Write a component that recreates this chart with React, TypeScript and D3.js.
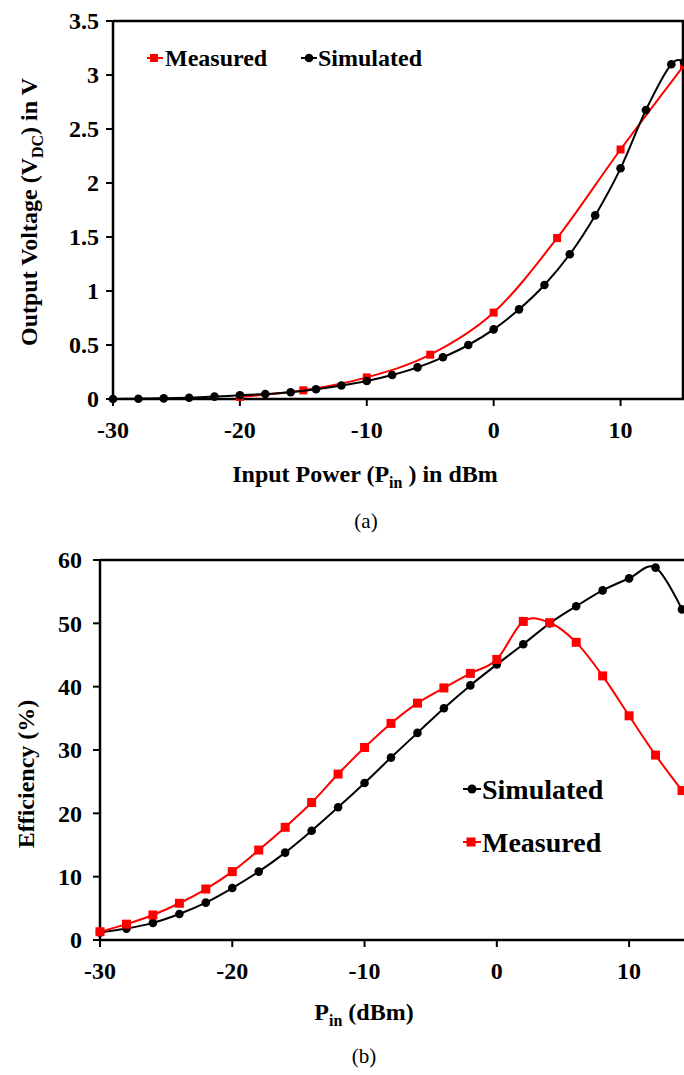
import React from "react";
import * as d3 from "d3";

// ---- Data: chart (a) output voltage ----
const measuredA_x = [-20, -15, -10, -5, 0, 5, 10, 15];
const measuredA_y = [0.02, 0.08, 0.2, 0.41, 0.8, 1.49, 2.31, 3.09];
const simulatedA_x = [-30, -28, -26, -24, -22, -20, -18, -16, -14, -12, -10, -8, -6, -4, -2, 0, 2, 4, 6, 8, 10, 12, 14, 15];
const simulatedA_y = [0, 0.003, 0.006, 0.012, 0.022, 0.035, 0.046, 0.062, 0.09, 0.125, 0.167, 0.222, 0.293, 0.386, 0.5, 0.645, 0.83, 1.056, 1.34, 1.7, 2.136, 2.676, 3.1, 3.12];
const xTicksA = [-30, -20, -10, 0, 10];
const yTicksA = [0, 0.5, 1, 1.5, 2, 2.5, 3, 3.5];

// ---- Data: chart (b) efficiency ----
const pinB = [-30, -28, -26, -24, -22, -20, -18, -16, -14, -12, -10, -8, -6, -4, -2, 0, 2, 4, 6, 8, 10, 12, 14];
const simulatedB = [1.2, 1.8, 2.7, 4.1, 5.9, 8.2, 10.8, 13.8, 17.25, 20.95, 24.8, 28.8, 32.7, 36.6, 40.2, 43.5, 46.7, 50.0, 52.7, 55.2, 57.1, 58.8, 52.2];
const measuredB = [1.3, 2.5, 3.95, 5.8, 8.05, 10.8, 14.2, 17.8, 21.7, 26.2, 30.4, 34.2, 37.4, 39.8, 42.1, 44.3, 50.3, 50.1, 47.0, 41.7, 35.4, 29.2, 23.6];
const xTicksB = [-30, -20, -10, 0, 10];
const yTicksB = [0, 10, 20, 30, 40, 50, 60];

const RED = "#ff0000";
const FONT = "'Liberation Serif', 'Times New Roman', serif";

const xA = d3.scaleLinear().domain([-30, 15]).range([113, 684]);
const yA = d3.scaleLinear().domain([0, 3.5]).range([399, 21]);
const xB = d3.scaleLinear().domain([-30, 14]).range([100, 682]);
const yB = d3.scaleLinear().domain([0, 60]).range([940, 560]);

function pathOf(xs: number[], ys: number[], sx: any, sy: any) {
  const pts: [number, number][] = xs.map((x, i) => [sx(x), sy(ys[i])]);
  return d3.line().curve(d3.curveCardinal.tension(0))(pts) || "";
}

function Squares({ xs, ys, sx, sy, s }: any) {
  return (
    <g fill={RED}>
      {xs.map((x: number, i: number) => (
        <rect key={i} x={sx(x) - s / 2} y={sy(ys[i]) - s / 2} width={s} height={s} />
      ))}
    </g>
  );
}
function Dots({ xs, ys, sx, sy, r }: any) {
  return (
    <g fill="#000">
      {xs.map((x: number, i: number) => (
        <circle key={i} cx={sx(x)} cy={sy(ys[i])} r={r} />
      ))}
    </g>
  );
}

export default function App() {
  const tickLen = 7;
  const TF = 24;
  return (
    <svg width={684} height={1075} style={{ position: "absolute", left: 0, top: 0, background: "#fff" }} fontFamily={FONT}>
      <defs>
        <clipPath id="clipA"><rect x={100} y={0} width={584} height={420} /></clipPath>
        <clipPath id="clipB"><rect x={90} y={540} width={594} height={420} /></clipPath>
      </defs>
      {/* ===== Chart A ===== */}
      <g>
        <line x1={xA(-30)} x2={684} y1={yA(3.5)} y2={yA(3.5)} stroke="#000" strokeWidth={2.5} />
        <line x1={683} x2={683} y1={yA(3.5)} y2={yA(0)} stroke="#000" strokeWidth={2.5} />
        <line x1={xA(-30)} x2={684} y1={yA(0)} y2={yA(0)} stroke="#000" strokeWidth={2.5} />
        <line x1={xA(-30)} x2={xA(-30)} y1={yA(3.5)} y2={yA(0)} stroke="#000" strokeWidth={2.5} />
        {yTicksA.map((t) => (
          <g key={t}>
            <line x1={xA(-30) - tickLen} x2={xA(-30)} y1={yA(t)} y2={yA(t)} stroke="#000" strokeWidth={2} />
            <text x={99} y={yA(t)} dy="0.35em" textAnchor="end" fontWeight="bold" fontSize={TF}>{t}</text>
          </g>
        ))}
        {xTicksA.map((t) => (
          <g key={t}>
            <line x1={xA(t)} x2={xA(t)} y1={yA(0)} y2={yA(0) + tickLen} stroke="#000" strokeWidth={2} />
            <text x={xA(t)} y={438} textAnchor="middle" fontWeight="bold" fontSize={TF}>{t}</text>
          </g>
        ))}
        <g clipPath="url(#clipA)">
          <path d={pathOf(measuredA_x, measuredA_y, xA, yA)} fill="none" stroke={RED} strokeWidth={2} />
          <Squares xs={measuredA_x} ys={measuredA_y} sx={xA} sy={yA} s={8} />
          <path d={pathOf(simulatedA_x, simulatedA_y, xA, yA)} fill="none" stroke="#000" strokeWidth={2} />
          <Dots xs={simulatedA_x} ys={simulatedA_y} sx={xA} sy={yA} r={4.3} />
        </g>
        {/* legend */}
        <line x1={147} x2={163} y1={58} y2={58} stroke={RED} strokeWidth={2} />
        <rect x={150} y={54} width={8} height={8} fill={RED} />
        <text x={165} y={66} fontWeight="bold" fontSize={24}>Measured</text>
        <line x1={301} x2={317} y1={58} y2={58} stroke="#000" strokeWidth={2} />
        <circle cx={309} cy={58} r={4.3} fill="#000" />
        <text x={318} y={66} fontWeight="bold" fontSize={24}>Simulated</text>
        {/* axis titles */}
        <text transform="translate(37,212) rotate(-90)" textAnchor="middle" fontWeight="bold" fontSize={TF}>
          Output Voltage (V<tspan fontSize={16} dy={6}>DC</tspan><tspan dy={-6}>) in V</tspan>
        </text>
        <text x={365} y={482} textAnchor="middle" fontWeight="bold" fontSize={TF}>
          Input Power (P<tspan fontSize={16} dy={6}>in</tspan><tspan dy={-6}> ) in dBm</tspan>
        </text>
        <text x={366} y={528} textAnchor="middle" fontSize={21}>(a)</text>
      </g>

      {/* ===== Chart B ===== */}
      <g>
        <line x1={xB(-30)} x2={684} y1={yB(60)} y2={yB(60)} stroke="#000" strokeWidth={2.5} />
        <line x1={xB(-30)} x2={684} y1={yB(0)} y2={yB(0)} stroke="#000" strokeWidth={2.5} />
        <line x1={xB(-30)} x2={xB(-30)} y1={yB(60)} y2={yB(0)} stroke="#000" strokeWidth={2.5} />
        {yTicksB.map((t) => (
          <g key={t}>
            <line x1={xB(-30) - tickLen} x2={xB(-30)} y1={yB(t)} y2={yB(t)} stroke="#000" strokeWidth={2} />
            <text x={82} y={yB(t)} dy="0.35em" textAnchor="end" fontWeight="bold" fontSize={TF}>{t}</text>
          </g>
        ))}
        {xTicksB.map((t) => (
          <g key={t}>
            <line x1={xB(t)} x2={xB(t)} y1={yB(0)} y2={yB(0) + tickLen} stroke="#000" strokeWidth={2} />
            <text x={xB(t)} y={979} textAnchor="middle" fontWeight="bold" fontSize={TF}>{t}</text>
          </g>
        ))}
        <g clipPath="url(#clipB)">
          <path d={pathOf(pinB, simulatedB, xB, yB)} fill="none" stroke="#000" strokeWidth={2} />
          <Dots xs={pinB} ys={simulatedB} sx={xB} sy={yB} r={4.3} />
          <path d={pathOf(pinB, measuredB, xB, yB)} fill="none" stroke={RED} strokeWidth={2} />
          <Squares xs={pinB} ys={measuredB} sx={xB} sy={yB} s={9} />
        </g>
        {/* legend */}
        <line x1={463} x2={481} y1={789} y2={789} stroke="#000" strokeWidth={2} />
        <circle cx={472} cy={789} r={4.5} fill="#000" />
        <text x={482} y={799} fontWeight="bold" fontSize={28}>Simulated</text>
        <line x1={463} x2={481} y1={842} y2={842} stroke={RED} strokeWidth={2} />
        <rect x={466.5} y={837.5} width={9} height={9} fill={RED} />
        <text x={482} y={852} fontWeight="bold" fontSize={28}>Measured</text>
        <text transform="translate(34,774) rotate(-90)" textAnchor="middle" fontWeight="bold" fontSize={TF}>Efficiency (%)</text>
        <text x={364} y={1020} textAnchor="middle" fontWeight="bold" fontSize={TF}>
          P<tspan fontSize={16} dy={6}>in</tspan><tspan dy={-6}> (dBm)</tspan>
        </text>
        <text x={364} y={1063} textAnchor="middle" fontSize={21}>(b)</text>
      </g>
    </svg>
  );
}
